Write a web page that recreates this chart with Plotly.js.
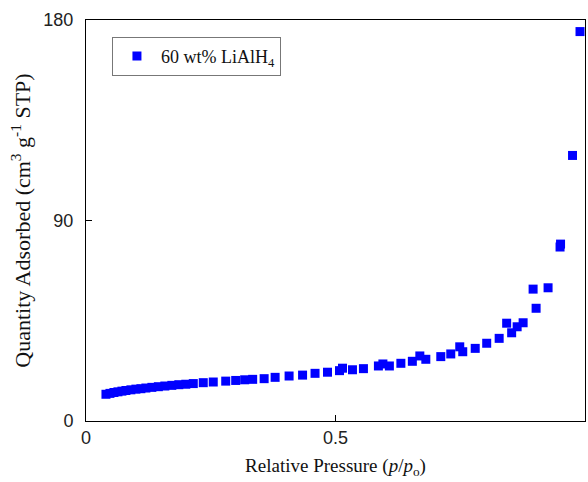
<!DOCTYPE html>
<html>
<head>
<meta charset="utf-8">
<script src="https://cdn.plot.ly/plotly-3.0.1.min.js"></script>
<style>html,body{margin:0;padding:0;background:#fff;}#chart{width:588px;height:482px;}</style>
</head>
<body>
<div id="chart"></div>
<script>
// Relative pressure p/p0
const relPressure = [
  0.040, 0.048, 0.056, 0.064, 0.072, 0.080, 0.090, 0.100, 0.110, 0.120,
  0.132, 0.145, 0.158, 0.172, 0.186, 0.200, 0.215, 0.235, 0.255, 0.280,
  0.300, 0.318, 0.334, 0.357, 0.379, 0.407, 0.434, 0.459, 0.484, 0.508,
  0.514, 0.534, 0.556, 0.586, 0.595, 0.608, 0.631, 0.654, 0.669, 0.681,
  0.711, 0.731, 0.749, 0.755, 0.780, 0.803, 0.828, 0.843, 0.853, 0.864,
  0.876, 0.896, 0.902, 0.926, 0.950, 0.951, 0.975, 0.990
];
// Quantity adsorbed (cm3 g-1 STP)
const quantityAdsorbed = [
  12.0, 12.4, 12.8, 13.1, 13.4, 13.7, 14.0, 14.3, 14.5, 14.8,
  15.1, 15.4, 15.7, 16.0, 16.3, 16.5, 16.8, 17.2, 17.5, 17.9,
  18.2, 18.5, 18.7, 19.0, 19.6, 20.2, 20.6, 21.4, 21.9, 22.6,
  23.7, 23.0, 23.5, 24.7, 25.6, 24.7, 25.9, 26.8, 29.2, 27.7,
  28.9, 30.1, 33.3, 31.1, 32.6, 34.9, 37.1, 43.9, 39.6, 42.3,
  44.1, 59.2, 50.6, 59.8, 78.1, 79.4, 119.2, 174.8
];
const seriesName = "60 wt% LiAlH<sub>4</sub>";
const xTickVals = [0, 0.5, 1];
const xTickText = ["0", "0.5", "1"];
const yTickVals = [0, 90, 180];
const yTickText = ["0", "90", "180"];

const trace = {
  x: relPressure,
  y: quantityAdsorbed,
  type: "scatter",
  mode: "markers",
  name: seriesName,
  showlegend: true,
  marker: {symbol: "square", size: 9, color: "#0000ff", line: {width: 0}}
};

const serif = "'Liberation Serif', 'Times New Roman', serif";
const sans = "'Liberation Sans', Arial, sans-serif";

const layout = {
  width: 588, height: 482,
  margin: {l: 86, r: 3, t: 20, b: 61},
  paper_bgcolor: "#fff", plot_bgcolor: "#fff",
  showlegend: true,
  legend: {
    x: 0.052, y: 0.958, xanchor: "left", yanchor: "top",
    bgcolor: "#fff", bordercolor: "#777", borderwidth: 1,
    font: {family: serif, size: 18, color: "#111"},
    itemwidth: 38
  },
  xaxis: {
    range: [0, 1], tickvals: xTickVals, ticktext: xTickText,
    ticks: "inside", ticklen: 6, tickcolor: "#000",
    showline: true, linecolor: "#000", linewidth: 1, mirror: true,
    showgrid: false, zeroline: false,
    tickfont: {family: sans, size: 18, color: "#222"},
    title: {text: "Relative Pressure (<i>p</i>/<i>p</i><sub>o</sub>)", font: {family: serif, size: 19, color: "#111"}, standoff: 12}
  },
  yaxis: {
    range: [0, 180], tickvals: yTickVals, ticktext: yTickText,
    ticks: "inside", ticklen: 6, tickcolor: "#000",
    showline: true, linecolor: "#000", linewidth: 1, mirror: true,
    showgrid: false, zeroline: false, ticklabelstandoff: 8,
    tickfont: {family: sans, size: 18, color: "#222"},
    title: {text: "Quantity Adsorbed (cm<sup>3</sup> g<sup>-1</sup> STP)", font: {family: serif, size: 22, color: "#111"}, standoff: 6}
  }
};

Plotly.newPlot("chart", [trace], layout, {displayModeBar: false, staticPlot: true});
</script>
</body>
</html>
